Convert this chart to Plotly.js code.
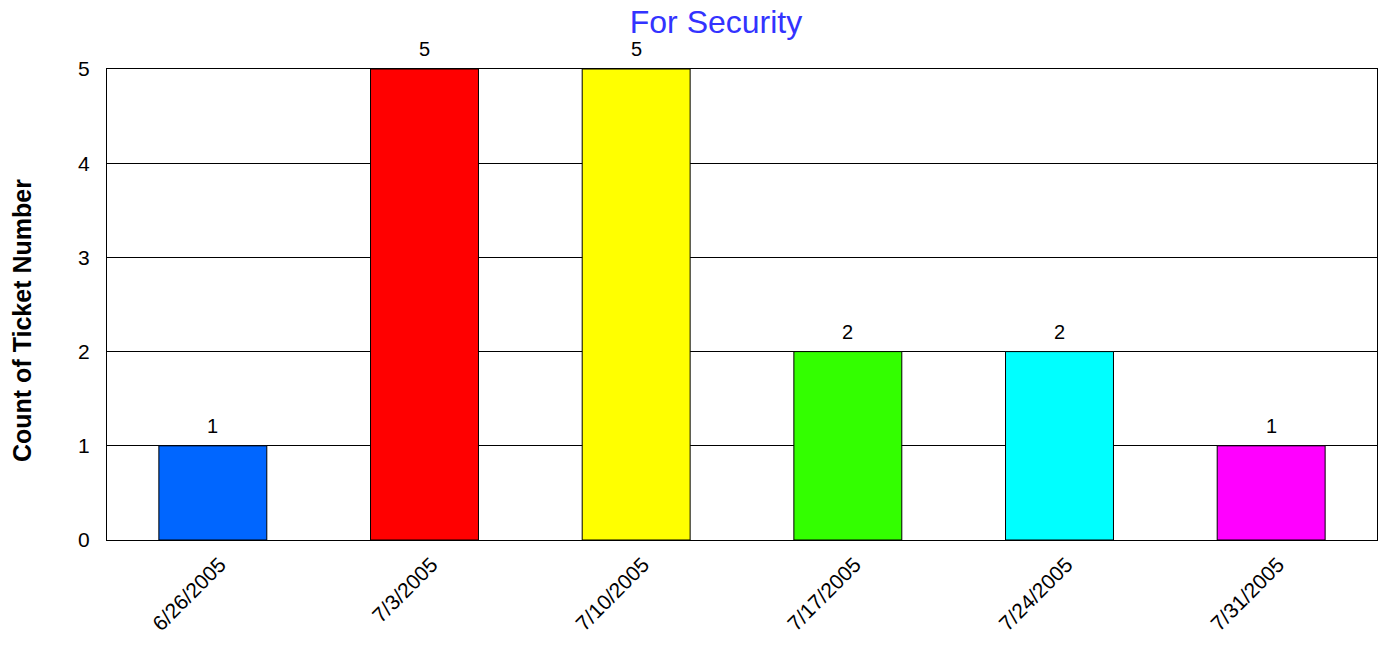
<!DOCTYPE html>
<html>
<head>
<meta charset="utf-8">
<script src="https://cdn.plot.ly/plotly-3.0.1.min.js"></script>
<style>html,body{margin:0;padding:0;background:#fff;}#chart{width:1383px;height:645px;}</style>
</head>
<body>
<div id="chart"></div>
<script>
const categories = ["6/26/2005", "7/3/2005", "7/10/2005", "7/17/2005", "7/24/2005", "7/31/2005"];
const counts = [1, 5, 5, 2, 2, 1];
const barColors = ["#0066ff", "#ff0000", "#ffff00", "#33ff00", "#00ffff", "#ff00ff"];
const yTicks = [0, 1, 2, 3, 4, 5];
const chartTitle = "For Security";
const yTitle = "Count of Ticket Number";

const FONT = "Arial, Liberation Sans, sans-serif";

const trace = {
  type: "bar",
  x: categories,
  y: counts,
  marker: {color: barColors, line: {color: "#000", width: 1}},
  hoverinfo: "none"
};

const valueLabels = categories.map((c, i) => ({
  x: c, y: counts[i], xref: "x", yref: "y",
  text: String(counts[i]), showarrow: false,
  yanchor: "bottom", yshift: 7,
  font: {family: FONT, size: 20, color: "#000"}
}));

const layout = {
  width: 1383, height: 645,
  margin: {l: 107, r: 6, t: 69, b: 105},
  paper_bgcolor: "#fff", plot_bgcolor: "#fff",
  bargap: 0.49,
  showlegend: false,
  title: {text: chartTitle, x: 0.5177, xref: "container", xanchor: "center", y: 0.966, yanchor: "middle",
    font: {family: FONT, size: 32, color: "#3333ff"}},
  xaxis: {
    type: "category", tickangle: -45, showgrid: false, zeroline: false,
    showline: true, linecolor: "#000", linewidth: 1, mirror: true,
    ticks: "outside", ticklen: 3, tickcolor: "rgba(0,0,0,0)",
    ticklabelshift: 7,
    tickfont: {family: FONT, size: 21, color: "#000"}
  },
  yaxis: {
    range: [0, 5], tickvals: yTicks, ticktext: yTicks.map(String),
    showgrid: true, gridcolor: "#000", gridwidth: 1, zeroline: false,
    showline: true, linecolor: "#000", linewidth: 1, mirror: true,
    ticks: "outside", ticklen: 12, tickcolor: "rgba(0,0,0,0)",
    tickfont: {family: FONT, size: 21, color: "#000"},
    automargin: false
  },
  annotations: valueLabels.concat([{
    text: "<b>" + yTitle + "</b>", xref: "paper", yref: "paper",
    x: -0.0669, y: 0.465, xanchor: "center", yanchor: "middle",
    textangle: -90, showarrow: false,
    font: {family: FONT, size: 25, color: "#000"}
  }])
};

Plotly.newPlot("chart", [trace], layout, {displayModeBar: false, staticPlot: true});
</script>
</body>
</html>
